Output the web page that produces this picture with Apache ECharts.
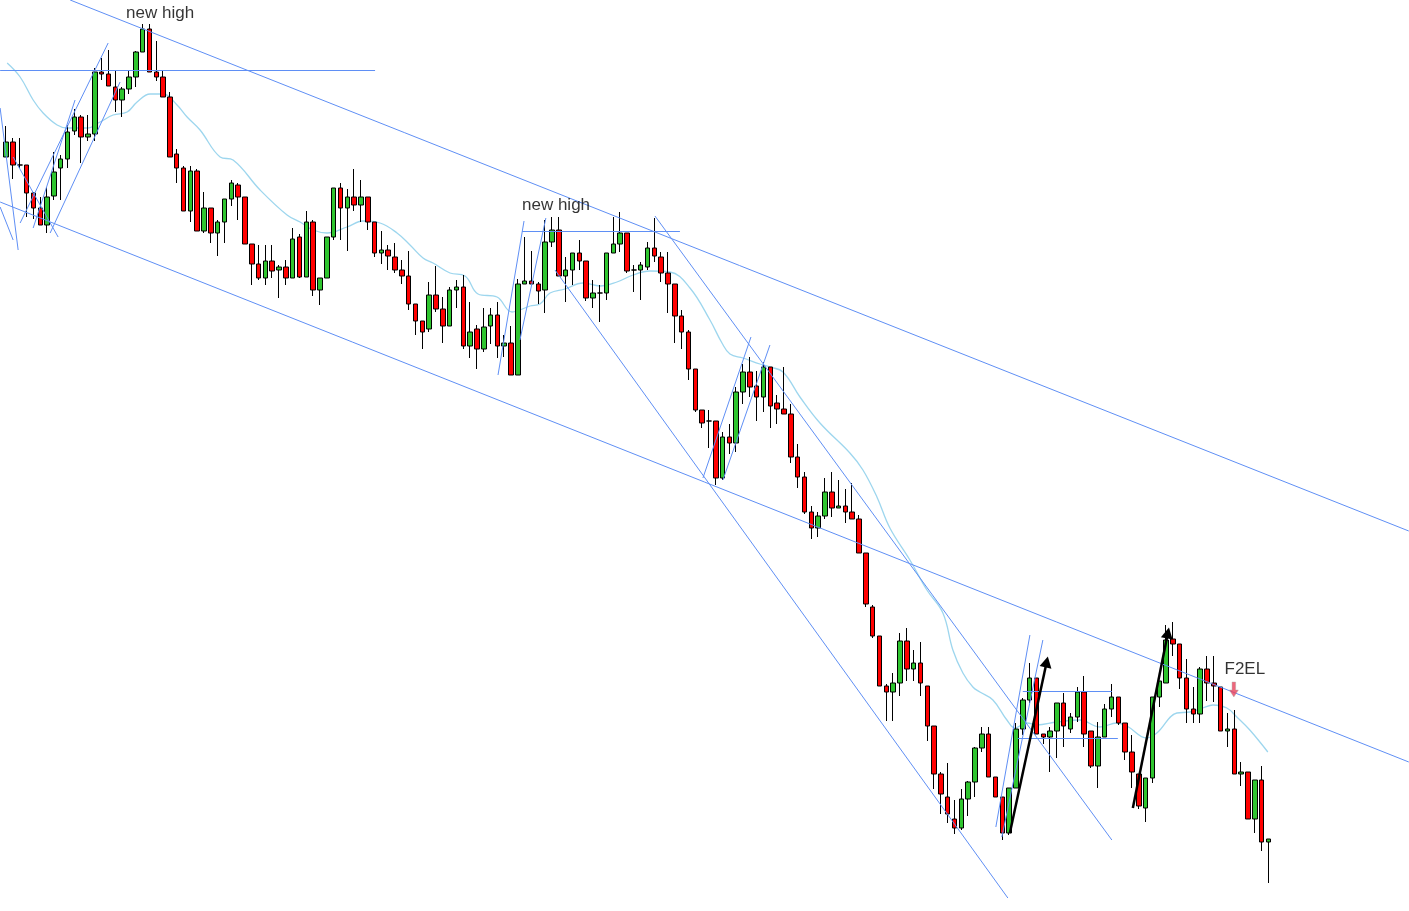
<!DOCTYPE html>
<html><head><meta charset="utf-8">
<script src="https://cdn.jsdelivr.net/npm/echarts@6/dist/echarts.min.js"></script>
<style>html,body{margin:0;padding:0;background:#fff}#c{width:1409px;height:911px}</style>
</head><body><div id="c"></div>
<script>
// OHLC price values (index points), one per bar
const opens=[843,858,835,835,807,792,775,804,832,841,869,883,863,866,928,926,913,900,911,923,948,971,928,923,903,846,832,789,829,769,792,767,778,801,815,803,756,736,722,739,730,733,722,763,723,778,710,722,763,812,792,803,795,803,778,747,750,743,730,724,696,679,671,705,691,674,710,713,654,671,651,674,685,654,657,625,716,719,716,710,758,770,724,730,747,739,702,707,707,747,756,767,730,730,733,752,743,727,716,684,668,631,590,579,579,522,563,557,608,628,614,603,633,597,591,586,543,523,488,472,484,508,492,494,488,481,447,393,364,314,308,317,359,331,337,314,274,226,203,181,172,201,218,252,266,223,203,167,212,271,300,322,266,263,269,297,271,283,308,269,234,263,291,303,277,248,226,192,222,303,317,361,356,322,291,286,331,317,313,269,271,226,228,181,220,158];
const closes=[858,835,835,807,792,775,803,828,841,868,883,863,866,928,926,914,900,911,923,948,971,928,923,903,843,832,789,829,769,792,767,778,801,817,803,756,736,722,739,729,733,722,761,723,778,710,722,763,812,792,803,795,803,778,747,750,744,730,724,696,679,668,705,691,674,710,713,654,668,651,673,685,654,657,625,716,719,716,709,758,770,724,730,747,739,702,707,707,747,756,767,729,730,735,752,744,727,716,684,668,631,590,577,579,522,563,557,608,628,613,603,633,594,591,586,543,523,488,472,484,508,492,494,488,481,447,396,364,314,308,317,359,331,337,317,274,226,206,186,172,201,218,252,266,223,203,167,212,271,300,322,266,263,269,297,274,283,308,266,234,263,291,303,277,248,228,194,222,303,319,360,356,322,291,286,331,317,314,269,271,226,228,181,220,158,161];
const highs=[874,862,862,835,808,803,813,848,845,875,891,885,885,932,942,950,929,913,929,949,976,976,959,929,908,851,834,834,831,808,792,780,801,820,817,803,756,755,755,755,735,740,772,766,789,780,722,763,812,817,811,831,820,803,778,769,755,757,740,749,696,679,718,734,703,713,720,725,698,675,692,692,698,665,674,721,763,749,718,780,783,783,743,747,760,739,720,715,747,783,788,767,735,738,758,782,748,748,716,690,670,631,590,590,579,568,576,613,636,643,629,638,633,605,633,596,556,528,494,488,522,528,520,511,517,485,447,395,364,316,327,367,372,350,358,314,274,228,237,200,211,219,253,273,273,223,203,212,277,302,337,322,266,273,297,307,287,313,324,269,278,296,316,303,277,265,226,222,303,319,375,378,356,341,313,333,344,344,313,287,290,238,228,220,234,161];
const lows=[843,821,832,783,781,775,767,800,800,832,865,837,859,859,920,914,888,883,906,913,948,928,919,903,843,817,789,778,769,767,757,744,757,794,780,756,715,720,715,722,702,715,722,722,723,704,695,722,760,760,749,789,778,770,743,736,730,727,716,690,665,651,668,688,657,674,692,651,642,631,648,656,642,643,625,625,716,716,696,687,753,724,698,715,730,699,692,678,700,747,748,727,708,700,730,738,718,687,657,651,620,588,572,552,515,520,546,548,596,603,579,588,572,576,586,537,512,486,461,463,481,483,492,477,481,447,393,362,314,279,279,304,319,319,304,259,211,186,177,166,170,184,203,248,223,203,160,165,212,265,297,266,256,228,242,253,267,278,253,232,212,263,283,275,240,212,191,178,217,293,317,344,311,277,277,277,299,298,269,253,226,214,181,167,149,117];

// moving average: bar position and value
const maX=[0.15,2.05,3.96,5.42,7.47,8.94,11.87,13.77,15.68,17.73,19.19,21.10,23.00,25.05,26.52,28.42,31.36,33.26,37.22,41.17,43.08,44.98,47.03,49.96,52.31,54.80,57.29,59.19,61.10,62.56,65.05,67.25,69.16,71.94,74.14,76.78,78.24,79.71,81.90,84.54,87.03,89.52,91.87,94.36,97.29,100.22,103.15,104.91,106.08,107.99,110.48,111.94,113.85,116.34,119.27,123.66,125.57,127.62,129.52,132.45,134.95,137.29,138.75,140.22,141.68,142.71,144.62,146.67,147.84,149.60,151.06,153.99,157.36,160.29,162.78,164.25,167.18,168.64,171.58,173.48,175.38,176.85,178.90,180.37,182.27,184.91];
const maY=[937,923,900,887,875,872,872,878,885,888,898,906,906,895,883,870,843,840,810,785,778,770,767,773,779,777,767,755,742,737,727,724,706,703,688,694,696,707,711,717,714,718,725,729,728,712,680,657,646,642,636,633,628,603,577,547,530,503,472,440,410,387,350,327,313,308,300,280,272,277,275,278,280,273,277,274,262,267,287,288,292,295,292,283,270,248];

// drawn trend lines: [x1, y1, x2, y2] in bar-index / price units
const trendLines=[
 [9.38,1000,205.57,469],[-0.88,798,205.57,238],
 [-0.88,929.5,54.07,929.5],[75.6,768.5,98.75,768.5],
 [80.44,730,146.81,102],[95.09,784,162.05,160],
 [102.12,522,109.16,663],[105.05,520,111.94,655],
 [72.09,625,75.9,779],[75.3,660,79.1,782],
 [145.05,173,150.04,365],[145.93,163,151.94,360],
 [149.0,308.5,162.05,308.5],[148.28,261.5,162.93,261.5],
 [2.05,777,14.95,957],[6.45,767,16.7,918],[3.96,772,10.1,900],
 [-0.88,892,1.76,750],[1.03,843,7.62,763],[-0.88,793,1.03,760]
];
const arrowLines=[[147.1,167,152.5,338],[165.13,192,170.26,367]];
const notes=[[22.56,987,'new high'],[80.59,795,'new high'],[181.54,331,'F2EL']];
const signalArrow=[[179.93,310.5]];

const chart=echarts.init(document.getElementById('c'),null,{renderer:'canvas'});
const candleData=opens.map((o,i)=>[i,o,closes[i],lows[i],highs[i]]);
chart.setOption({
  animation:false,
  backgroundColor:'#ffffff',
  grid:{left:0,right:0,top:0,bottom:0},
  xAxis:{type:'value',min:-0.9,max:205.6,show:false},
  yAxis:{type:'value',min:89,max:1000,show:false},
  series:[
    {type:'line',data:maX.map((x,i)=>[x,maY[i]]),smooth:0.4,symbol:'none',
     lineStyle:{color:'#9dd6ee',width:1.3},z:1},
    {type:'candlestick',data:candleData,encode:{x:0,y:[1,2,3,4]},barWidth:5,z:3,
     itemStyle:{color:'#2fc52f',color0:'#ff0000',borderColor:'#000',borderColor0:'#000',borderWidth:1},
     markLine:{silent:true,symbol:['none','none'],label:{show:false},animation:false,
       lineStyle:{color:'#5f8ff5',width:1,type:'solid'},
       data:trendLines.map(l=>[{coord:[l[0],l[1]]},{coord:[l[2],l[3]]}])
         .concat(arrowLines.map(l=>[{coord:[l[0],l[1]],symbol:'none'},{coord:[l[2],l[3]],symbol:'triangle',symbolSize:[12,11],
           lineStyle:{color:'#000',width:2.5},itemStyle:{color:'#000'}}]))
     }},
    {type:'scatter',data:notes,symbolSize:1,itemStyle:{color:'rgba(0,0,0,0)'},z:5,
     label:{show:true,position:'inside',formatter:p=>p.value[2],fontSize:17,
       fontFamily:'Liberation Sans, Arial, sans-serif',color:'#000'}},
    {type:'scatter',data:signalArrow,z:5,
     symbol:'path://M3,0 L7,0 L7,8 L10,8 L5,15 L0,8 L3,8 Z',symbolSize:[9,15],
     itemStyle:{color:'#e8405a',borderColor:'#aaa',borderWidth:0.5}}
  ]
});
</script></body></html>
